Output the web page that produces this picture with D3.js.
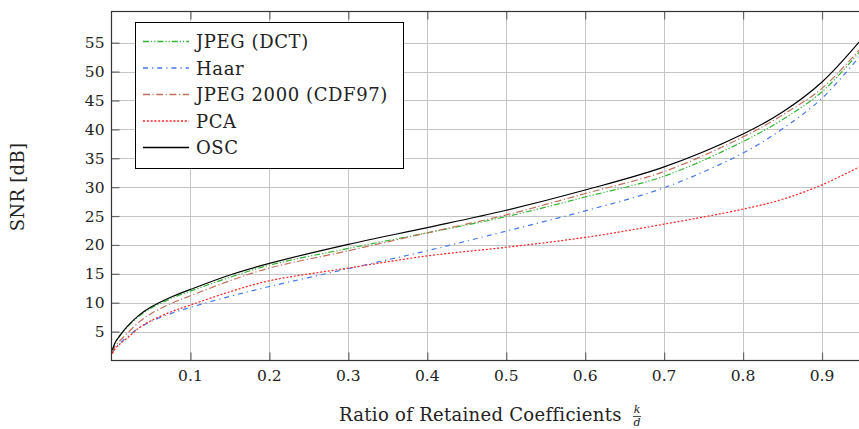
<!DOCTYPE html>
<head>
    <title>SNR vs retained coefficients</title>
    <script src="https://d3js.org/d3.v7.min.js"></script>
    <style>
        body { margin: 0; background: #fff; }
        svg text { font-family: "DejaVu Serif"; fill: #222; }
        .tick-label { font-size: 15.5px; }
        .axis-label { font-size: 18px; letter-spacing: 0.3px; }
        .legend-label { font-size: 18px; letter-spacing: 0.6px; }
    </style>
</head>
<body>
    <svg id="chart" width="859" height="429"></svg>
    <script>
        // ratio of retained coefficients k/d
        var ratios = [0.001, 0.005, 0.01, 0.02, 0.035, 0.05, 0.075, 0.1, 0.15, 0.2, 0.3, 0.4, 0.5, 0.6, 0.7, 0.8, 0.85, 0.9, 0.95];

        // SNR [dB] per method
        var dct   = [1.77, 3.14, 4.13, 5.8, 7.69, 9.04, 10.69, 12.0, 14.4, 16.5, 19.4, 22.1, 24.9, 28.3, 31.9, 37.9, 41.7, 46.5, 53.8];
        var haar  = [1.25, 2.22, 2.92, 4.1, 5.66, 6.77, 8.12, 9.2, 11.1, 12.8, 15.9, 19.0, 22.4, 25.9, 29.9, 35.9, 40.1, 45.4, 53.0];
        var cdf97 = [1.43, 2.55, 3.35, 4.7, 6.68, 8.10, 9.83, 11.2, 13.8, 16.0, 19.0, 22.1, 25.2, 28.9, 32.7, 38.7, 42.5, 47.1, 54.2];
        var pca   = [1.19, 2.11, 2.78, 3.9, 5.64, 6.88, 8.40, 9.6, 11.9, 13.8, 16.0, 18.1, 19.6, 21.3, 23.6, 26.2, 27.9, 30.4, 33.7];
        var osc   = [1.8, 3.2, 4.2, 5.9, 7.85, 9.25, 10.95, 12.3, 14.8, 16.8, 20.1, 23.0, 26.0, 29.5, 33.5, 39.2, 43.0, 48.2, 55.6];

        var xTicks = [0.1, 0.2, 0.3, 0.4, 0.5, 0.6, 0.7, 0.8, 0.9];
        var yTicks = [5, 10, 15, 20, 25, 30, 35, 40, 45, 50, 55];

        var series = [
            { name: "JPEG (DCT)", values: dct, color: "#2fb52f", dash: "6,2,1.2,2,1.2,2" },
            { name: "Haar", values: haar, color: "#4477ee", dash: "5,4,1.2,4" },
            { name: "JPEG 2000 (CDF97)", values: cdf97, color: "#c0705a", dash: "7,2.5,1.2,2.5" },
            { name: "PCA", values: pca, color: "#ff2020", dash: "2,1.8" },
            { name: "OSC", values: osc, color: "#000", dash: null }
        ];

        var svg = d3.select("#chart");
        var pLeft = 111.5, pRight = 861.5, pTop = 11.5, pBottom = 360.5;

        var x = d3.scaleLinear().domain([0, 0.95]).range([pLeft, pRight]);
        var y = d3.scaleLinear().domain([0, 60.4]).range([pBottom, pTop]);

        svg.append("clipPath").attr("id", "plot-clip")
            .append("rect").attr("x", pLeft).attr("y", pTop)
            .attr("width", pRight - pLeft).attr("height", pBottom - pTop);

        // grid
        var grid = svg.append("g").attr("stroke", "#c4c4c4").attr("stroke-width", 1);
        grid.selectAll(".vg").data(xTicks).enter().append("line")
            .attr("x1", function (d) { return Math.round(x(d)) + 0.5; })
            .attr("x2", function (d) { return Math.round(x(d)) + 0.5; })
            .attr("y1", pTop).attr("y2", pBottom);
        grid.selectAll(".hg").data(yTicks).enter().append("line")
            .attr("y1", function (d) { return Math.round(y(d)) + 0.5; })
            .attr("y2", function (d) { return Math.round(y(d)) + 0.5; })
            .attr("x1", pLeft).attr("x2", pRight);

        // inward ticks (pgfplots style) using d3 axes
        var tickLen = 8;
        var xb = svg.append("g").attr("transform", "translate(0," + pBottom + ")")
            .call(d3.axisTop(x).tickValues(xTicks).tickSize(tickLen).tickFormat(""));
        var xt = svg.append("g").attr("transform", "translate(0," + pTop + ")")
            .call(d3.axisBottom(x).tickValues(xTicks).tickSize(tickLen).tickFormat(""));
        var yl = svg.append("g").attr("transform", "translate(" + pLeft + ",0)")
            .call(d3.axisRight(y).tickValues(yTicks).tickSize(tickLen).tickFormat(""));
        [xb, xt, yl].forEach(function (g) {
            g.select(".domain").remove();
            g.selectAll(".tick line").attr("stroke", "#666").attr("stroke-width", 1.2);
        });

        // tick labels
        svg.selectAll(".xl").data(xTicks).enter().append("text")
            .attr("class", "tick-label")
            .attr("x", function (d) { return x(d); })
            .attr("y", pBottom + 20)
            .attr("text-anchor", "middle")
            .text(function (d) { return d.toFixed(1); });
        svg.selectAll(".yl").data(yTicks).enter().append("text")
            .attr("class", "tick-label")
            .attr("x", pLeft - 7)
            .attr("y", function (d) { return y(d) + 5.5; })
            .attr("text-anchor", "end")
            .text(function (d) { return d; });

        // curves
        var line = d3.line()
            .x(function (d, i) { return x(ratios[i]); })
            .y(function (d) { return y(d); })
            .curve(d3.curveCatmullRom.alpha(0.5));

        var plot = svg.append("g").attr("clip-path", "url(#plot-clip)");
        series.forEach(function (s) {
            plot.append("path")
                .attr("d", line(s.values))
                .attr("fill", "none")
                .attr("stroke", s.color)
                .attr("stroke-width", 1.2)
                .attr("stroke-dasharray", s.dash);
        });

        // frame
        svg.append("rect")
            .attr("x", pLeft).attr("y", pTop)
            .attr("width", pRight - pLeft).attr("height", pBottom - pTop)
            .attr("fill", "none").attr("stroke", "#333").attr("stroke-width", 1.2);

        // legend
        var lg = svg.append("g");
        lg.append("rect")
            .attr("x", 135.5).attr("y", 22.5).attr("width", 268).attr("height", 146)
            .attr("fill", "#fff").attr("stroke", "#000").attr("stroke-width", 1);
        series.forEach(function (s, i) {
            var cy = 41.5 + i * 26.5;
            lg.append("line")
                .attr("x1", 143).attr("x2", 189).attr("y1", cy).attr("y2", cy)
                .attr("stroke", s.color).attr("stroke-width", 1.3)
                .attr("stroke-dasharray", s.dash);
            lg.append("text")
                .attr("class", "legend-label")
                .attr("x", 196).attr("y", cy + 6.5)
                .text(s.name);
        });

        // axis labels
        svg.append("text")
            .attr("class", "axis-label")
            .attr("transform", "translate(24,187) rotate(-90)")
            .attr("text-anchor", "middle")
            .text("SNR [dB]");

        svg.append("text")
            .attr("class", "axis-label")
            .attr("x", 339).attr("y", 421)
            .text("Ratio of Retained Coefficients");
        // fraction k/d
        var fx = 637;
        svg.append("text").attr("x", fx).attr("y", 413).attr("font-size", 11)
            .attr("font-style", "italic").attr("text-anchor", "middle").text("k");
        svg.append("line").attr("x1", fx - 4).attr("x2", fx + 4).attr("y1", 416.5).attr("y2", 416.5)
            .attr("stroke", "#222").attr("stroke-width", 0.8);
        svg.append("text").attr("x", fx).attr("y", 426).attr("font-size", 11)
            .attr("font-style", "italic").attr("text-anchor", "middle").text("d");
    </script>
</body>
